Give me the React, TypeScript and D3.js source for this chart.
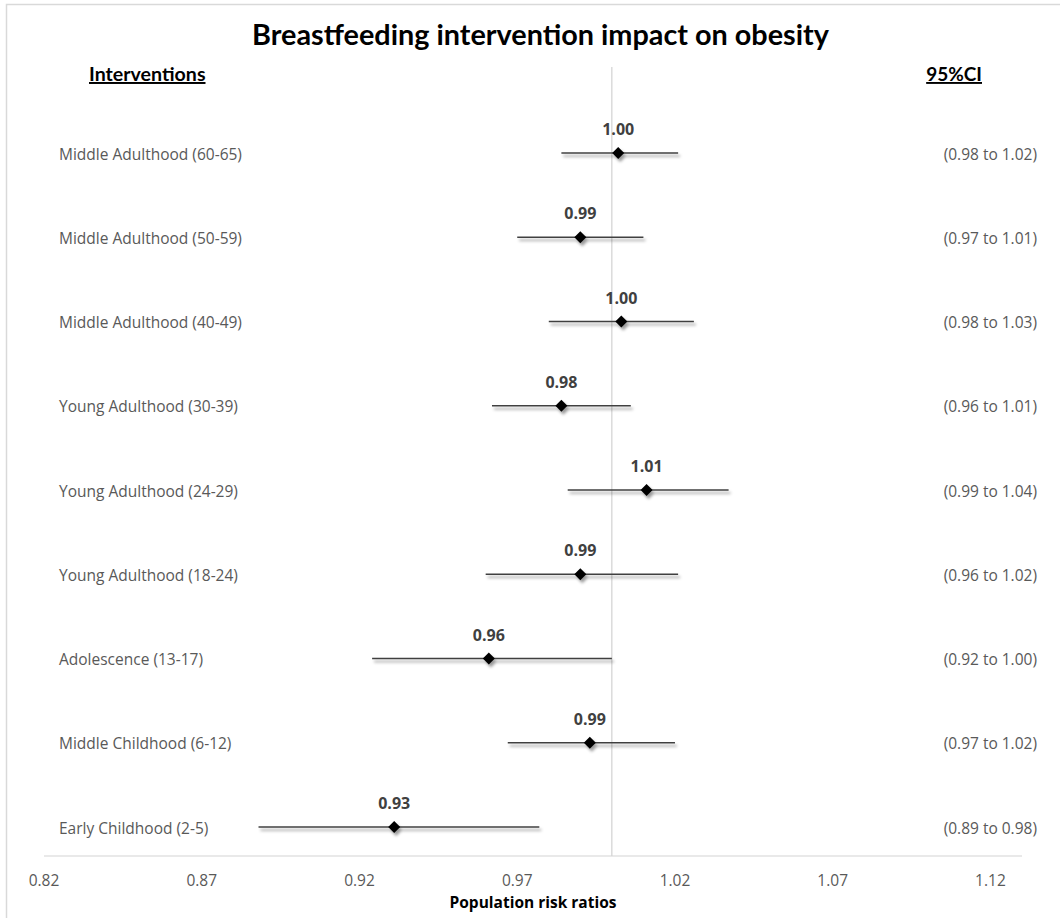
import React from 'react';
import * as d3 from 'd3';

// Interventions, top row first
const categories = [
  'Middle Adulthood (60-65)',
  'Middle Adulthood (50-59)',
  'Middle Adulthood (40-49)',
  'Young Adulthood (30-39)',
  'Young Adulthood (24-29)',
  'Young Adulthood (18-24)',
  'Adolescence (13-17)',
  'Middle Childhood (6-12)',
  'Early Childhood (2-5)',
];

// Population risk ratios with 95% confidence bounds
const estimates = [1.002, 0.99, 1.003, 0.984, 1.011, 0.99, 0.961, 0.993, 0.931];
const lowerCI = [0.984, 0.97, 0.98, 0.962, 0.986, 0.96, 0.924, 0.967, 0.888];
const upperCI = [1.021, 1.01, 1.026, 1.006, 1.037, 1.021, 1.0, 1.02, 0.977];

const tickValues = [0.82, 0.87, 0.92, 0.97, 1.02, 1.07, 1.12];
const referenceValue = 1.0;

const WIDTH = 1060;
const HEIGHT = 918;

const bodyFont = '"Open Sans", "Noto Sans", sans-serif';
const headFont = 'Lato, "Open Sans", sans-serif';

export default function App() {
  const x = d3.scaleLinear().domain([0.82, 1.13]).range([44, 1022]);
  const y = d3.scalePoint<string>().domain(categories).range([153, 827]);
  const fmt = d3.format('.2f');
  const plotTop = 67;
  const axisY = 856;

  const diamond = (cx: number, cy: number, r: number) =>
    `M${cx},${cy - r}L${cx + r},${cy}L${cx},${cy + r}L${cx - r},${cy}Z`;

  return (
    <svg
      width={WIDTH}
      height={HEIGHT}
      style={{ position: 'absolute', left: 0, top: 0, background: '#fff' }}
    >
      <defs>
        <filter id="soft-shadow" x="-20%" y="-200%" width="140%" height="500%">
          <feDropShadow dx="2" dy="3" stdDeviation="1.6" floodColor="#000" floodOpacity="0.4" />
        </filter>
      </defs>

      {/* chart frame */}
      <rect x={6.5} y={4.5} width={WIDTH + 10} height={HEIGHT + 10} fill="#fff" stroke="#d9d9d9" strokeWidth={1.5} />

      {/* title */}
      <text
        x={540.5}
        y={45}
        textAnchor="middle"
        fontFamily={headFont}
        fontWeight={700}
        fontSize={28.8}
        fill="#000"
      >
        Breastfeeding intervention impact on obesity
      </text>

      {/* column headers */}
      <text
        x={89}
        y={81}
        fontFamily={headFont}
        fontWeight={700}
        fontSize={19.6}
        fill="#000"
        textDecoration="underline"
      >
        Interventions
      </text>
      <text
        x={982}
        y={81}
        textAnchor="end"
        fontFamily={headFont}
        fontWeight={700}
        fontSize={19}
        fill="#000"
        textDecoration="underline"
      >
        95%CI
      </text>

      {/* reference line at risk ratio 1 */}
      <line
        x1={x(referenceValue)}
        x2={x(referenceValue)}
        y1={plotTop}
        y2={axisY}
        stroke="#c8c8c8"
        strokeWidth={1}
      />

      {/* x axis */}
      <line x1={x.range()[0]} x2={x.range()[1]} y1={axisY} y2={axisY} stroke="#d4d4d4" strokeWidth={1.2} />
      {tickValues.map((t) => (
        <text
          key={t}
          x={x(t)}
          y={885.5}
          textAnchor="middle"
          fontFamily={bodyFont}
          fontSize={15.5}
          fill="#595959"
        >
          {fmt(t)}
        </text>
      ))}
      <text
        x={(x.range()[0] + x.range()[1]) / 2}
        y={908}
        textAnchor="middle"
        fontFamily={bodyFont}
        fontWeight={700}
        fontSize={15.5}
        fill="#000"
      >
        Population risk ratios
      </text>

      {categories.map((c, i) => {
        const cy = y(c) as number;
        return (
          <g key={c}>
            <text x={59} y={cy + 6.5} fontFamily={bodyFont} fontSize={15.5} fill="#595959">
              {c}
            </text>
            <text
              x={1037}
              y={cy + 6.5}
              textAnchor="end"
              fontFamily={bodyFont}
              fontSize={15.5}
              fill="#595959"
            >
              {`(${fmt(lowerCI[i])} to ${fmt(upperCI[i])})`}
            </text>
            <g filter="url(#soft-shadow)">
              <line
                x1={x(lowerCI[i])}
                x2={x(upperCI[i])}
                y1={cy}
                y2={cy}
                stroke="#404040"
                strokeWidth={1.7}
              />
              <path d={diamond(x(estimates[i]), cy, 6)} fill="#000" />
            </g>
            <text
              x={x(estimates[i])}
              y={cy - 18}
              textAnchor="middle"
              fontFamily={bodyFont}
              fontWeight={700}
              fontSize={16}
              fill="#404040"
            >
              {fmt(estimates[i])}
            </text>
          </g>
        );
      })}
    </svg>
  );
}
